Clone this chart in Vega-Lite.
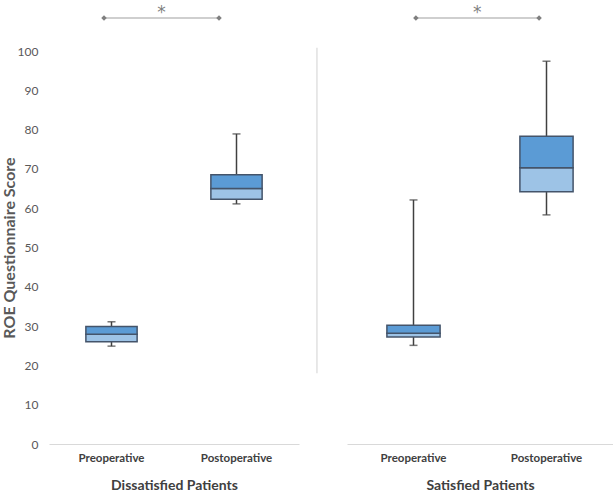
{
  "$schema": "https://vega.github.io/schema/vega-lite/v6.json",
  "padding": {"left": 1, "top": 3, "right": 0, "bottom": 0},
  "spacing": 17,
  "config": {"view": {"stroke": null}, "font": "Lato"},
  "datasets": {
    "boxes": [
      {"group": "Dissatisfied Patients", "phase": "Preoperative", "part": "whisker", "lo": 24.9, "hi": 31.1},
      {"group": "Dissatisfied Patients", "phase": "Preoperative", "part": "lower", "lo": 26.0, "hi": 27.9},
      {"group": "Dissatisfied Patients", "phase": "Preoperative", "part": "upper", "lo": 27.9, "hi": 29.9},
      {"group": "Dissatisfied Patients", "phase": "Preoperative", "part": "cap", "lo": 24.9},
      {"group": "Dissatisfied Patients", "phase": "Preoperative", "part": "cap", "lo": 31.1},
      {"group": "Dissatisfied Patients", "phase": "Postoperative", "part": "whisker", "lo": 61.1, "hi": 78.9},
      {"group": "Dissatisfied Patients", "phase": "Postoperative", "part": "lower", "lo": 62.3, "hi": 65.0},
      {"group": "Dissatisfied Patients", "phase": "Postoperative", "part": "upper", "lo": 65.0, "hi": 68.5},
      {"group": "Dissatisfied Patients", "phase": "Postoperative", "part": "cap", "lo": 61.1},
      {"group": "Dissatisfied Patients", "phase": "Postoperative", "part": "cap", "lo": 78.9},
      {"group": "Satisfied Patients", "phase": "Preoperative", "part": "whisker", "lo": 25.1, "hi": 62.1},
      {"group": "Satisfied Patients", "phase": "Preoperative", "part": "lower", "lo": 27.2, "hi": 28.2},
      {"group": "Satisfied Patients", "phase": "Preoperative", "part": "upper", "lo": 28.2, "hi": 30.2},
      {"group": "Satisfied Patients", "phase": "Preoperative", "part": "cap", "lo": 25.1},
      {"group": "Satisfied Patients", "phase": "Preoperative", "part": "cap", "lo": 62.1},
      {"group": "Satisfied Patients", "phase": "Postoperative", "part": "whisker", "lo": 58.3, "hi": 97.4},
      {"group": "Satisfied Patients", "phase": "Postoperative", "part": "lower", "lo": 64.2, "hi": 70.3},
      {"group": "Satisfied Patients", "phase": "Postoperative", "part": "upper", "lo": 70.3, "hi": 78.3},
      {"group": "Satisfied Patients", "phase": "Postoperative", "part": "cap", "lo": 58.3},
      {"group": "Satisfied Patients", "phase": "Postoperative", "part": "cap", "lo": 97.4}
    ],
    "annot": [
      {"group": "Dissatisfied Patients", "kind": "line", "a": 0.22, "b": 0.68, "lo": 108.4},
      {"group": "Dissatisfied Patients", "kind": "star", "a": 0.45, "lo": 109.67, "label": "*"},
      {"group": "Satisfied Patients", "kind": "line", "a": 0.259, "b": 0.722, "lo": 108.4},
      {"group": "Satisfied Patients", "kind": "star", "a": 0.49, "lo": 109.67, "label": "*"},
      {"group": "Satisfied Patients", "kind": "sep", "a": -0.113, "lo": 18, "hi": 100.8}
    ]
  },
  "hconcat": [
    {
      "width": 250,
      "height": 393,
      "encoding": {
        "y": {"field": "lo", "type": "quantitative", "scale": {"domain": [0, 100], "nice": false}, "title": "ROE Questionnaire Score",
              "axis": {"values": [0, 10, 20, 30, 40, 50, 60, 70, 80, 90, 100], "labelOverlap": false, "grid": false, "ticks": false, "domain": false, "labelColor": "#595959", "labelFontSize": 12, "labelPadding": 11, "titleFontSize": 16, "titleFontWeight": "bold", "titleColor": "#595959", "titlePadding": 0}}
      },
      "resolve": {"scale": {"x": "independent"}},
      "layer": [
        {
          "data": {"name": "boxes"},
          "transform": [{"filter": "datum.group == 'Dissatisfied Patients'"}],
          "encoding": {
            "x": {"field": "phase", "type": "nominal", "sort": ["Preoperative", "Postoperative"],
                  "scale": {"paddingInner": 0, "paddingOuter": 0},
                  "title": "Dissatisfied Patients",
                  "axis": {"labelAngle": 0, "ticks": false, "domainColor": "#d9d9d9", "labelFontWeight": "bold", "labelFontSize": 11.5, "labelColor": "#404040", "labelPadding": 8, "titleFontSize": 14, "titleFontWeight": "bold", "titleColor": "#404040", "titlePadding": 15}}
          },
          "layer": [
            {"transform": [{"filter": "datum.part == 'whisker'"}],
             "mark": {"type": "rule", "color": "#404040", "strokeWidth": 1.5},
             "encoding": {"y2": {"field": "hi"}}},
            {"transform": [{"filter": "datum.part == 'lower'"}],
             "mark": {"type": "bar", "fill": "#9dc3e6", "stroke": "#44546a", "strokeWidth": 1.5, "width": {"band": 0.41}},
             "encoding": {"y2": {"field": "hi"}}},
            {"transform": [{"filter": "datum.part == 'upper'"}],
             "mark": {"type": "bar", "fill": "#5b9bd5", "stroke": "#44546a", "strokeWidth": 1.5, "width": {"band": 0.41}},
             "encoding": {"y2": {"field": "hi"}}},
            {"transform": [{"filter": "datum.part == 'cap'"}],
             "mark": {"type": "tick", "color": "#404040", "size": 8, "thickness": 1.5},
             "encoding": {}}
          ]
        },
        {
          "data": {"name": "annot"},
          "transform": [{"filter": "datum.group == 'Dissatisfied Patients'"}],
          "layer": [
            {"transform": [{"filter": "datum.kind == 'line'"}],
             "mark": {"type": "rule", "color": "#bfbfbf", "strokeWidth": 1.5},
             "encoding": {"x": {"field": "a", "type": "quantitative", "scale": {"domain": [0, 1]}, "axis": null},
                          "x2": {"field": "b"}}},
            {"transform": [{"filter": "datum.kind == 'line'"}],
             "mark": {"type": "point", "shape": "diamond", "filled": true, "color": "#7f7f7f", "size": 30, "opacity": 1},
             "encoding": {"x": {"field": "a", "type": "quantitative", "axis": null}}},
            {"transform": [{"filter": "datum.kind == 'line'"}],
             "mark": {"type": "point", "shape": "diamond", "filled": true, "color": "#7f7f7f", "size": 30, "opacity": 1},
             "encoding": {"x": {"field": "b", "type": "quantitative", "axis": null}}},
            {"transform": [{"filter": "datum.kind == 'star'"}],
             "mark": {"type": "text", "color": "#7f7f7f", "font": "DejaVu Sans", "fontSize": 17, "baseline": "middle"},
             "encoding": {"x": {"field": "a", "type": "quantitative", "axis": null},
                          "text": {"field": "label"}}}
          ]
        }
      ]
    },
    {
      "width": 266,
      "height": 393,
      "encoding": {
        "y": {"field": "lo", "type": "quantitative", "scale": {"domain": [0, 100], "nice": false}, "axis": null}
      },
      "resolve": {"scale": {"x": "independent"}},
      "layer": [
        {
          "data": {"name": "boxes"},
          "transform": [{"filter": "datum.group == 'Satisfied Patients'"}],
          "encoding": {
            "x": {"field": "phase", "type": "nominal", "sort": ["Preoperative", "Postoperative"],
                  "scale": {"paddingInner": 0, "paddingOuter": 0},
                  "title": "Satisfied Patients",
                  "axis": {"labelAngle": 0, "ticks": false, "domainColor": "#d9d9d9", "labelFontWeight": "bold", "labelFontSize": 11.5, "labelColor": "#404040", "labelPadding": 8, "titleFontSize": 14, "titleFontWeight": "bold", "titleColor": "#404040", "titlePadding": 15}}
          },
          "layer": [
            {"transform": [{"filter": "datum.part == 'whisker'"}],
             "mark": {"type": "rule", "color": "#404040", "strokeWidth": 1.5},
             "encoding": {"y2": {"field": "hi"}}},
            {"transform": [{"filter": "datum.part == 'lower'"}],
             "mark": {"type": "bar", "fill": "#9dc3e6", "stroke": "#44546a", "strokeWidth": 1.5, "width": {"band": 0.4}},
             "encoding": {"y2": {"field": "hi"}}},
            {"transform": [{"filter": "datum.part == 'upper'"}],
             "mark": {"type": "bar", "fill": "#5b9bd5", "stroke": "#44546a", "strokeWidth": 1.5, "width": {"band": 0.4}},
             "encoding": {"y2": {"field": "hi"}}},
            {"transform": [{"filter": "datum.part == 'cap'"}],
             "mark": {"type": "tick", "color": "#404040", "size": 8, "thickness": 1.5},
             "encoding": {}}
          ]
        },
        {
          "data": {"name": "annot"},
          "transform": [{"filter": "datum.group == 'Satisfied Patients'"}],
          "layer": [
            {"transform": [{"filter": "datum.kind == 'sep'"}],
             "mark": {"type": "rule", "color": "#d9d9d9", "strokeWidth": 1.2},
             "encoding": {"x": {"field": "a", "type": "quantitative", "scale": {"domain": [0, 1]}, "axis": null},
                          "y2": {"field": "hi"}}},
            {"transform": [{"filter": "datum.kind == 'line'"}],
             "mark": {"type": "rule", "color": "#bfbfbf", "strokeWidth": 1.5},
             "encoding": {"x": {"field": "a", "type": "quantitative", "axis": null},
                          "x2": {"field": "b"}}},
            {"transform": [{"filter": "datum.kind == 'line'"}],
             "mark": {"type": "point", "shape": "diamond", "filled": true, "color": "#7f7f7f", "size": 30, "opacity": 1},
             "encoding": {"x": {"field": "a", "type": "quantitative", "axis": null}}},
            {"transform": [{"filter": "datum.kind == 'line'"}],
             "mark": {"type": "point", "shape": "diamond", "filled": true, "color": "#7f7f7f", "size": 30, "opacity": 1},
             "encoding": {"x": {"field": "b", "type": "quantitative", "axis": null}}},
            {"transform": [{"filter": "datum.kind == 'star'"}],
             "mark": {"type": "text", "color": "#7f7f7f", "font": "DejaVu Sans", "fontSize": 17, "baseline": "middle"},
             "encoding": {"x": {"field": "a", "type": "quantitative", "axis": null},
                          "text": {"field": "label"}}}
          ]
        }
      ]
    }
  ]
}
